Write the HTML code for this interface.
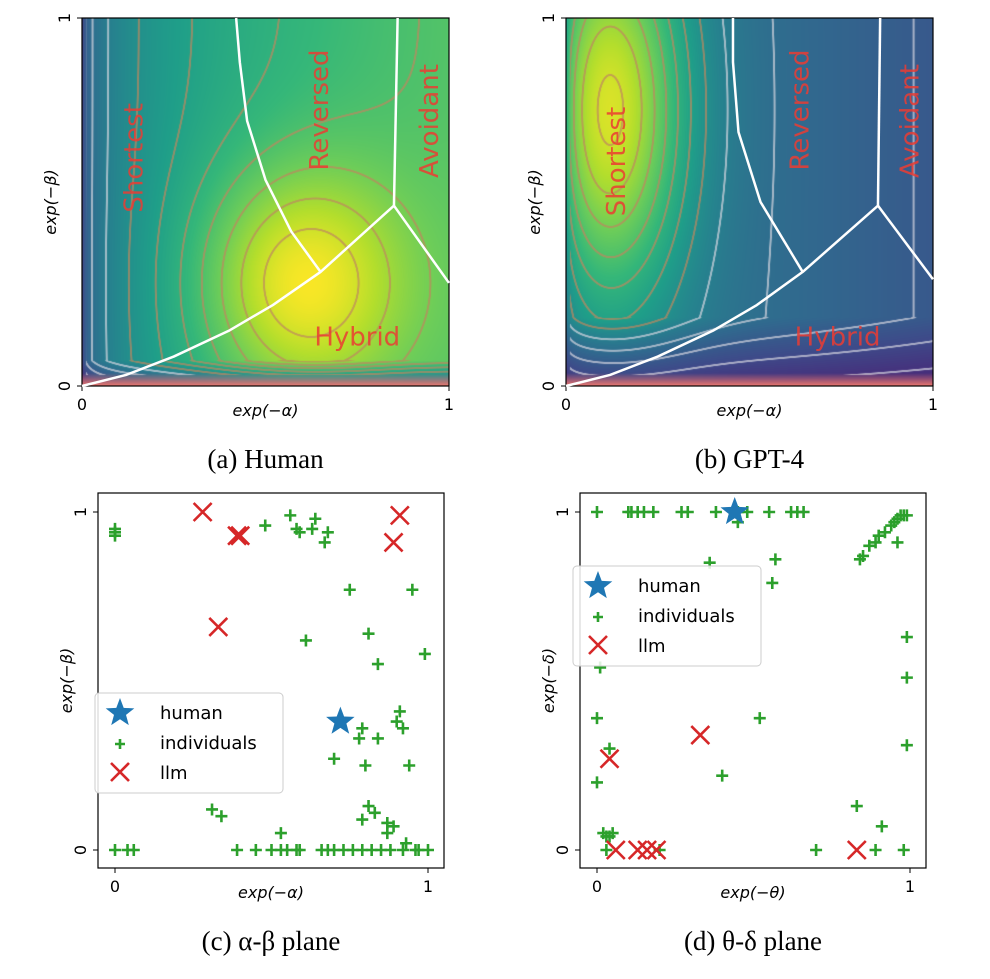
<!DOCTYPE html>
<html><head><meta charset="utf-8">
<style>
body{margin:0;background:#fff;width:990px;height:979px;overflow:hidden;position:relative;font-family:"DejaVu Sans","Liberation Sans",sans-serif}
canvas{position:absolute}
svg{position:absolute;left:0;top:0}
</style></head><body>
<canvas id="hmA" width="367" height="368" style="left:82px;top:18px"></canvas>
<canvas id="hmB" width="367" height="368" style="left:566px;top:18px"></canvas>
<svg id="svg" width="990" height="979"></svg>
<script>
// ---- data ----
const cIndX=[0,0,0,0.48,0.56,0.58,0.59,0.63,0.64,0.68,0.67,0.75,0.95,0.81,0.61,0.99,0.84,0.79,0.78,0.84,0.91,0.90,0.92,0.70,0.80,0.94,0.31,0.34,0.81,0.83,0.79,0.87,0.89,0.87,0.53,0.93,0,0.04,0.06,0.39,0.45,0.50,0.53,0.55,0.58,0.59,0.66,0.68,0.70,0.73,0.76,0.79,0.82,0.85,0.88,0.92,0.96,0.97,1.0];
const cIndY=[0.94,0.93,0.95,0.96,0.99,0.95,0.94,0.95,0.98,0.94,0.91,0.77,0.77,0.64,0.62,0.58,0.55,0.36,0.33,0.33,0.41,0.38,0.36,0.27,0.25,0.25,0.12,0.10,0.13,0.11,0.09,0.08,0.07,0.05,0.05,0.02,0,0,0,0,0,0,0,0,0,0,0,0,0,0,0,0,0,0,0,0,0,0,0];
const cLlmX=[0.28,0.39,0.40,0.91,0.89,0.33];
const cLlmY=[1.0,0.93,0.93,0.99,0.91,0.66];
const cHumX=[0.72], cHumY=[0.38];
const dIndX=[0,0.10,0.11,0.13,0.15,0.18,0.27,0.29,0.38,0.44,0.45,0.48,0.55,0.62,0.64,0.66,0.45,0.84,0.85,0.87,0.89,0.90,0.92,0.94,0.95,0.96,0.97,0.98,0.99,0.96,0.36,0.57,0.56,0.01,0.99,0.99,0.99,0,0.52,0.04,0,0.40,0.83,0.91,0.02,0.04,0.05,0.03,0.03,0.20,0.70,0.89,0.98];
const dIndY=[1,1,1,1,1,1,1,1,1,1,1,1,1,1,1,1,0.97,0.86,0.87,0.90,0.91,0.93,0.94,0.96,0.97,0.98,0.99,0.99,0.99,0.91,0.85,0.86,0.79,0.54,0.63,0.51,0.31,0.39,0.39,0.30,0.20,0.22,0.13,0.07,0.05,0.04,0.05,0.04,0,0,0,0,0];
const dLlmX=[0.33,0.04,0.06,0.13,0.16,0.19,0.83];
const dLlmY=[0.34,0.27,0,0,0,0,0];
const dHumX=[0.44], dHumY=[1.0];
// region boundaries (data coords)
const aBx=[[0,0.12,0.25,0.4,0.52,0.65,0.85,1],[0.65,0.57,0.50,0.45,0.43,0.42],[0.85,0.86]];
const aBy=[[0,0.03,0.08,0.15,0.22,0.31,0.49,0.28],[0.31,0.42,0.56,0.72,0.88,1],[0.49,1]];
const bBx=[[0,0.12,0.25,0.4,0.52,0.645,0.85,1],[0.645,0.53,0.47,0.455,0.455],[0.85,0.856]];
const bBy=[[0,0.03,0.08,0.15,0.22,0.31,0.49,0.29],[0.31,0.5,0.69,0.88,1],[0.49,1]];

const NS="http://www.w3.org/2000/svg";
const svg=document.getElementById('svg');
function el(t,a,p){const e=document.createElementNS(NS,t);for(const k in a)e.setAttribute(k,a[k]);(p||svg).appendChild(e);return e;}
function txt(s,x,y,a){const e=el('text',Object.assign({x:x,y:y,'text-anchor':'middle'},a));e.textContent=s;return e;}

const V=[[68,1,84],[72,40,120],[62,74,137],[49,104,142],[38,130,142],[31,158,137],[53,183,121],[109,205,89],[180,222,44],[253,231,37]];
function vir(t){t=Math.max(0,Math.min(1,t))*(V.length-1);const i=Math.min(V.length-2,Math.floor(t)),f=t-i;return V[i].map((c,k)=>c+(V[i+1][k]-c)*f);}
function heat(id,fn){const cv=document.getElementById(id),ctx=cv.getContext('2d'),W=cv.width,H=cv.height,im=ctx.createImageData(W,H);
 const N=14;
 for(let j=0;j<H;j++)for(let i=0;i<W;i++){const x=(i+0.5)/W,y=1-(j+0.5)/H;const f=fn(x,y);let c=vir(f);
  const gx=(fn(x+1/W,y)-fn(x-1/W,y))/2, gy=(fn(x,y+1/H)-fn(x,y-1/H))/2;
  const g=Math.sqrt(gx*gx+gy*gy)*N+1e-6;
  const lv=f*N, fr=Math.abs(lv-Math.round(lv));
  const d=fr/g;
  if(d<1.3&&x>0.01&&y>0.03){const a=0.7*Math.min(1,(1.3-d)/0.6);const lc=f<0.45?[215,215,225]:[190,135,95];c=c.map((v,k)=>v*(1-a)+lc[k]*a);}
  if(y<0.035){const s=(0.035-y)/0.035;c=c.map((v,k)=>v*(1-s)+[235,120,110][k]*s);}
  const p=(j*W+i)*4;im.data[p]=c[0];im.data[p+1]=c[1];im.data[p+2]=c[2];im.data[p+3]=255;}
 ctx.putImageData(im,0,0);}
heat('hmA',(x,y)=>1.1*Math.pow(x,0.2)*(0.66+0.34*Math.exp(-((x-0.58)*(x-0.58)/0.08+(y-0.28)*(y-0.28)/0.1)))*Math.min(1,0.45+y*8));
heat('hmB',(x,y)=>1.15*Math.pow(x,0.08)*(0.24+0.18*(1-x)+0.58*Math.exp(-((x-0.1)*(x-0.1)/0.05+(y-0.75)*(y-0.75)/0.3)))*Math.min(1,0.35+y*3.5));

function panel(o){
 const sx=v=>o.x0+(o.x1-o.x0)*v, sy=v=>o.y0-(o.y0-o.y1)*v;
 const g=el('g',{});
 el('rect',{x:o.bx0,y:o.by0,width:o.bx1-o.bx0,height:o.by1-o.by0,fill:'none',stroke:'#000','stroke-width':1.2,},g);
 [0,1].forEach(v=>{
  el('line',{x1:sx(v),x2:sx(v),y1:o.by1,y2:o.by1+5,stroke:'#000'},g);
  txt(String(v),sx(v),o.by1+24,{'font-size':16,});
  el('line',{x1:o.bx0,x2:o.bx0-5,y1:sy(v),y2:sy(v),stroke:'#000'},g);
  txt(String(v),o.bx0-12,sy(v),{'font-size':16,transform:`rotate(-90 ${o.bx0-12} ${sy(v)})`,});
 });
 txt(o.xl,(o.bx0+o.bx1)/2,o.by1+30,{'font-size':16,'font-style':'italic',});
 const yc=(o.by0+o.by1)/2;
 txt(o.yl,o.bx0-26,yc,{'font-size':16,'font-style':'italic',transform:`rotate(-90 ${o.bx0-26} ${yc})`,});
 txt(o.cap,(o.bx0+o.bx1)/2,o.by1+82,{'font-size':27,'font-family':'Liberation Serif,serif',});
 return {sx,sy,g};
}
function boundaries(p,BX,BY){BX.forEach((xs,k)=>{const pts=xs.map((v,i)=>p.sx(v)+','+p.sy(BY[k][i])).join(' ');
 el('polyline',{points:pts,fill:'none',stroke:'#fff','stroke-width':2.5,'stroke-linejoin':'round',},p.g);});}
function rlabels(p,labs){labs.forEach(l=>{txt(l[0],p.sx(l[1]),p.sy(l[2]),{'font-size':26,fill:'rgba(235,60,50,0.85)','dominant-baseline':'middle',transform:l[3]?`rotate(-90 ${p.sx(l[1])} ${p.sy(l[2])})`:'',});});}

const pa=panel({name:'panel-human',x0:82,x1:449,y0:386,y1:18,bx0:82,bx1:449,by0:18,by1:386,xl:'exp(−α)',yl:'exp(−β)',cap:'(a) Human'});
boundaries(pa,aBx,aBy);
rlabels(pa,[['Shortest',0.145,0.62,1],['Reversed',0.65,0.75,1],['Avoidant',0.95,0.72,1],['Hybrid',0.75,0.13,0]]);
const pb=panel({name:'panel-gpt4',x0:566,x1:933,y0:386,y1:18,bx0:566,bx1:933,by0:18,by1:386,xl:'exp(−α)',yl:'exp(−β)',cap:'(b) GPT-4'});
boundaries(pb,bBx,bBy);
rlabels(pb,[['Shortest',0.14,0.61,1],['Reversed',0.64,0.75,1],['Avoidant',0.94,0.72,1],['Hybrid',0.74,0.13,0]]);

function plus(g,x,y,s){el('path',{d:`M${x-s} ${y}H${x+s}M${x} ${y-s}V${y+s}`,stroke:'#2ca02c','stroke-width':2.6,fill:'none',},g);}
function cross(g,x,y,s){el('path',{d:`M${x-s} ${y-s}L${x+s} ${y+s}M${x-s} ${y+s}L${x+s} ${y-s}`,stroke:'#d62728','stroke-width':2.6,fill:'none',},g);}
function star(g,x,y,r){let d='';for(let i=0;i<10;i++){const rr=i%2?r*0.42:r,a=-Math.PI/2+i*Math.PI/5;d+=(i?'L':'M')+(x+rr*Math.cos(a)).toFixed(1)+' '+(y+rr*Math.sin(a)).toFixed(1);}
 el('path',{d:d+'Z',fill:'#1f77b4',},g);}
function scatter(p,ix,iy,lx,ly,hx,hy){ix.forEach((v,i)=>plus(p.g,p.sx(v),p.sy(iy[i]),6));lx.forEach((v,i)=>cross(p.g,p.sx(v),p.sy(ly[i]),9));hx.forEach((v,i)=>star(p.g,p.sx(v),p.sy(hy[i]),15));}
function legend(p,x,y){const lg=el('g',{},p.g);
 el('rect',{x:x,y:y,width:188,height:100,rx:4,fill:'rgba(255,255,255,0.85)',stroke:'#ccc'},lg);
 star(lg,x+25,y+20,15);plus(lg,x+25,y+51,5);cross(lg,x+25,y+79,9);
 [['human',20],['individuals',50],['llm',80]].forEach(t=>txt(t[0],x+65,y+t[1]+6,{'font-size':18,'text-anchor':'start',},lg));}
const pc=panel({name:'panel-alpha-beta',x0:115,x1:428,y0:850,y1:512,bx0:98,bx1:444,by0:493,by1:868,xl:'exp(−α)',yl:'exp(−β)',cap:'(c) α-β plane'});
scatter(pc,cIndX,cIndY,cLlmX,cLlmY,cHumX,cHumY);legend(pc,95,693);
const pd=panel({name:'panel-theta-delta',x0:597,x1:910,y0:850,y1:512,bx0:580,bx1:926,by0:493,by1:868,xl:'exp(−θ)',yl:'exp(−δ)',cap:'(d) θ-δ plane'});
scatter(pd,dIndX,dIndY,dLlmX,dLlmY,dHumX,dHumY);legend(pd,573,566);
</script>
</body></html>
